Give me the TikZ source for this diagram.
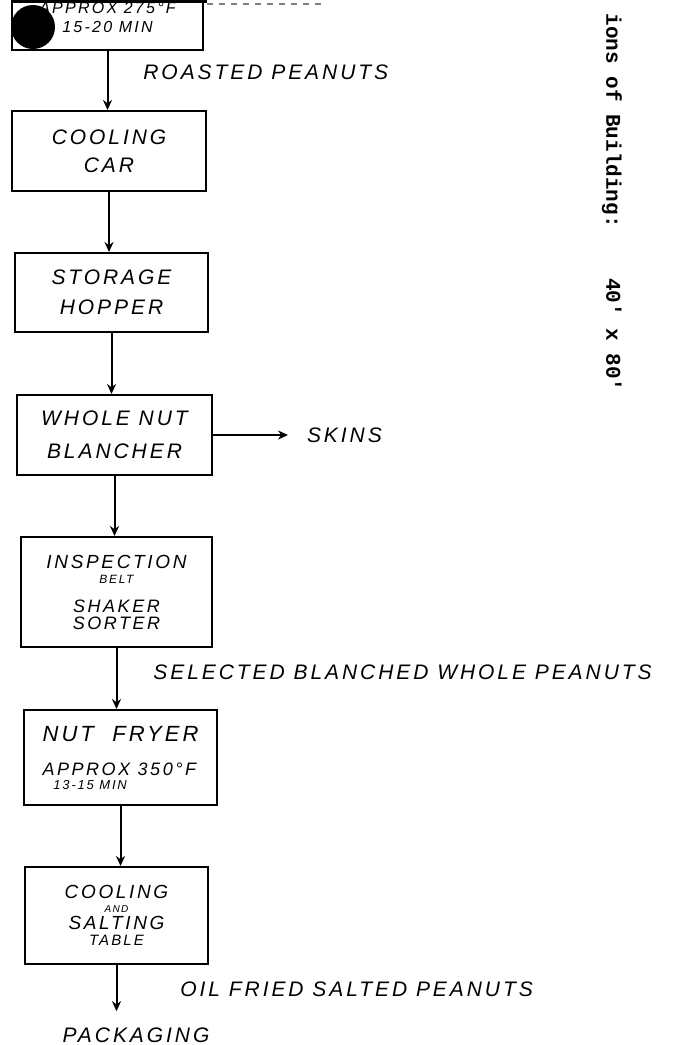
\documentclass[tikz,border=0pt]{standalone}
\usepackage{fontspec}
\usetikzlibrary{arrows.meta,calc,positioning}
\newfontfamily\hand{Liberation Sans}[LetterSpace=14]
\newfontfamily\typer{Liberation Mono}
\tikzset{
  proc box/.style={draw,line width=1pt,inner sep=0pt,align=center,
    font=\hand\itshape\fontsize{10.5}{14}\selectfont},
  flow arrow/.style={-{Stealth[length=5pt,width=4.5pt]},line width=1pt},
  flow label/.style={inner sep=0pt,anchor=west,
    font=\hand\itshape\fontsize{10.5}{12}\selectfont},
}

\begin{document}
\begin{tikzpicture}[x=0.5pt,y=-0.5pt]
  \useasboundingbox (0,0) rectangle (689,1045);
  % process boxes, top to bottom
  \node[proc box,minimum width=95.5pt,minimum height=32.5pt,
    font=\hand\itshape\fontsize{8}{9.5}\selectfont] (roast) at (107.5,17.5) {APPROX 275°F\\15-20 MIN};
  \node[proc box,minimum width=97pt,minimum height=40pt] (cool) at (109,151) {COOLING\\CAR};
  \node[proc box,minimum width=96.5pt,minimum height=39.5pt,
    font=\hand\itshape\fontsize{10.5}{15}\selectfont] (hopper) at (111.5,292.5) {STORAGE\\HOPPER};
  \node[proc box,minimum width=97.5pt,minimum height=40pt,
    font=\hand\itshape\fontsize{10.5}{16.5}\selectfont] (blanch) at (114.5,435) {WHOLE NUT\\BLANCHER};
  \node[proc box,minimum width=95.5pt,minimum height=55pt,
    font=\hand\itshape\fontsize{9.5}{7.5}\selectfont] (inspect) at (116.5,592)
    {INSPECTION\\{\fontsize{6}{7.5}\selectfont BELT}\\[7pt]
     {\fontsize{9}{8.5}\selectfont SHAKER}\\[1pt]{\fontsize{9}{8.5}\selectfont SORTER}};
  \node[proc box,minimum width=96.5pt,minimum height=47.5pt,align=left,
    font=\hand\itshape\fontsize{11}{7}\selectfont] (fryer) at (120.5,757.5)
    {NUT\ \ FRYER\\[10pt]{\fontsize{9}{7}\selectfont APPROX 350°F}\\
     {\fontsize{6.5}{7}\selectfont\ \ 13-15 MIN}};
  \node[proc box,minimum width=91.5pt,minimum height=48.5pt,
    font=\hand\itshape\fontsize{9.5}{8}\selectfont] (table) at (116.5,915.5)
    {COOLING\\[-1pt]{\fontsize{5}{7}\selectfont AND}\\[0.5pt]SALTING\\{\fontsize{7.5}{8}\selectfont TABLE}};

  % scan blot and cut frame at the top
  \fill (33,27) circle[radius=11pt];
  \draw[line width=1.5pt] (12,1) -- (207,1);
  \draw[gray,dashed,line width=0.6pt] (207,4) -- (323,4);

  % flow labels
  \node[flow label] (roasted) at (143,72) {ROASTED PEANUTS};
  \node[flow label,inner sep=3.3pt] (skins) at (300,435) {SKINS};
  \node[flow label] (selected) at (153,672) {SELECTED BLANCHED WHOLE PEANUTS};
  \node[flow label] (fried) at (180,989) {OIL FRIED SALTED PEANUTS};
  \node[flow label,anchor=center] (pack) at (136,1035) {PACKAGING};

  % side note
  \node[inner sep=0pt,anchor=west,rotate=-90,font=\typer\bfseries\fontsize{10.5}{12}\selectfont] (size)
    at (612,13) {ions of Building:~~~~40\textquotesingle{} x 80\textquotesingle};

  % connectors
  \draw[flow arrow] (roast.south) -- (roast.south |- cool.north);
  \draw[flow arrow] (cool.south) -- (cool.south |- hopper.north);
  \draw[flow arrow] (hopper.south) -- (hopper.south |- blanch.north);
  \draw[flow arrow] (blanch.south) -- (blanch.south |- inspect.north);
  \draw[flow arrow] (skins.west -| blanch.east) -- ([xshift=-6pt]skins.west);
  \draw[flow arrow] (inspect.south) -- (inspect.south |- fryer.north);
  \draw[flow arrow] (fryer.south) -- (fryer.south |- table.north);
  \draw[flow arrow] (table.south) -- ([yshift=8pt]table.south |- pack.north);
\end{tikzpicture}
\end{document}
